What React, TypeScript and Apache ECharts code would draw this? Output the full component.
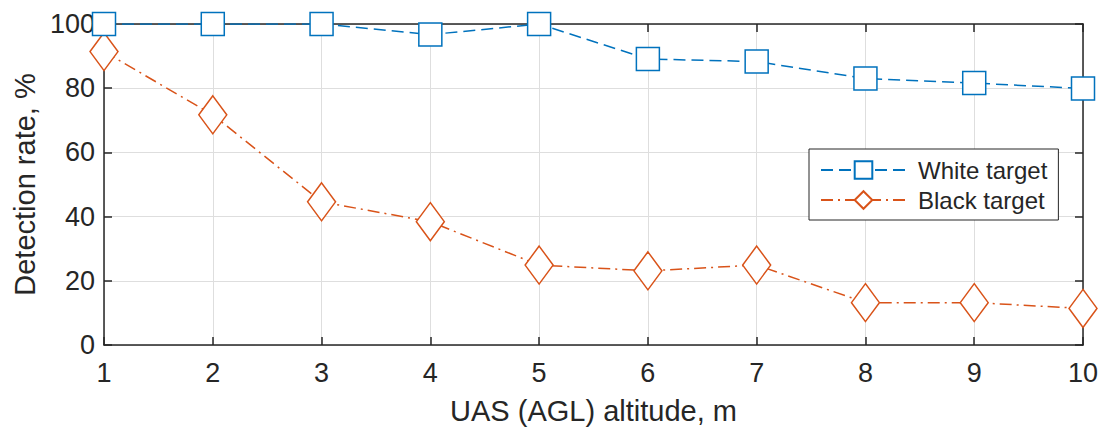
import React, { useEffect, useRef } from "react";
import * as echarts from "echarts";

const altitudes = [1, 2, 3, 4, 5, 6, 7, 8, 9, 10];
const whiteTarget = [100, 100, 100, 96.7, 100, 89.1, 88.3, 83.0, 81.6, 79.9];
const blackTarget = [91.4, 71.7, 44.6, 38.4, 24.9, 23.1, 24.9, 13.2, 13.2, 11.4];
const yTicks = [0, 20, 40, 60, 80, 100];

const BLUE = "#0072BD";
const ORANGE = "#D95319";
const AXIS = "#262626";
const FONT = "Liberation Sans, Arial, sans-serif";

export default function App() {
  const ref = useRef<HTMLDivElement>(null);
  useEffect(() => {
    document.body.style.margin = "0";
    document.body.style.overflow = "hidden";
    if (!ref.current) return;
    const chart = echarts.init(ref.current, undefined, { renderer: "svg" });
    const axisCommon = {
      axisLine: { show: true, onZero: false, lineStyle: { color: AXIS, width: 1.5 } },
      axisTick: { show: true, inside: true, length: 8, lineStyle: { color: AXIS, width: 1.5 } },
    };
    chart.setOption({
      animation: false,
      backgroundColor: "#ffffff",
      textStyle: { fontFamily: FONT },
      grid: { left: 104, right: 16, top: 24, bottom: 84, containLabel: false, outerBoundsMode: "none" },
      legend: {
        orient: "vertical",
        left: 809,
        top: 149,
        padding: [9, 11, 8, 11],
        itemGap: 6,
        itemWidth: 85,
        itemHeight: 22,
        borderColor: AXIS,
        borderWidth: 1,
        backgroundColor: "#ffffff",
        textStyle: { fontSize: 24, lineHeight: 24, color: AXIS, fontFamily: FONT, padding: [0, 0, 0, 7] },
        data: ["White target", "Black target"],
      },
      xAxis: [
        {
          type: "value",
          min: 1,
          max: 10,
          interval: 1,
          name: "UAS (AGL) altitude, m",
          nameLocation: "middle",
          nameGap: 51,
          nameTextStyle: { fontSize: 29, color: AXIS, fontFamily: FONT },
          ...axisCommon,
          axisLabel: { fontSize: 27, color: AXIS, margin: 14, fontFamily: FONT },
          splitLine: { show: true, lineStyle: { color: "#dedede", width: 1 } },
        },
        {
          type: "value",
          position: "top",
          min: 1,
          max: 10,
          interval: 1,
          ...axisCommon,
          axisLabel: { show: false },
          splitLine: { show: false },
        },
      ],
      yAxis: [
        {
          type: "value",
          min: 0,
          max: 100,
          interval: 20,
          name: "Detection rate, %",
          nameLocation: "middle",
          nameGap: 58,
          nameTextStyle: { fontSize: 29, color: AXIS, fontFamily: FONT },
          ...axisCommon,
          axisLabel: {
            fontSize: 27,
            color: AXIS,
            margin: 9,
            fontFamily: FONT,
            formatter: (v: number) => (yTicks.includes(v) ? String(v) : ""),
          },
          splitLine: { show: true, lineStyle: { color: "#dedede", width: 1 } },
        },
        {
          type: "value",
          position: "right",
          min: 0,
          max: 100,
          interval: 20,
          ...axisCommon,
          axisLabel: { show: false },
          splitLine: { show: false },
        },
      ],
      series: [
        {
          name: "White target",
          type: "line",
          data: altitudes.map((x, i) => [x, whiteTarget[i]]),
          symbol: "rect",
          symbolSize: 23,
          lineStyle: { color: BLUE, width: 1.5, type: [12, 6] },
          itemStyle: { color: "#ffffff", borderColor: BLUE, borderWidth: 1.5 },
          z: 3,
        },
        {
          name: "Black target",
          type: "line",
          data: altitudes.map((x, i) => [x, blackTarget[i]]),
          symbol: "diamond",
          symbolSize: [28, 38],
          lineStyle: { color: ORANGE, width: 1.5, type: [12, 5, 2, 5] },
          itemStyle: { color: "#ffffff", borderColor: ORANGE, borderWidth: 1.5 },
          z: 2,
        },
      ],
    });
    return () => chart.dispose();
  }, []);
  return <div ref={ref} style={{ width: 1099, height: 429 }} />;
}
